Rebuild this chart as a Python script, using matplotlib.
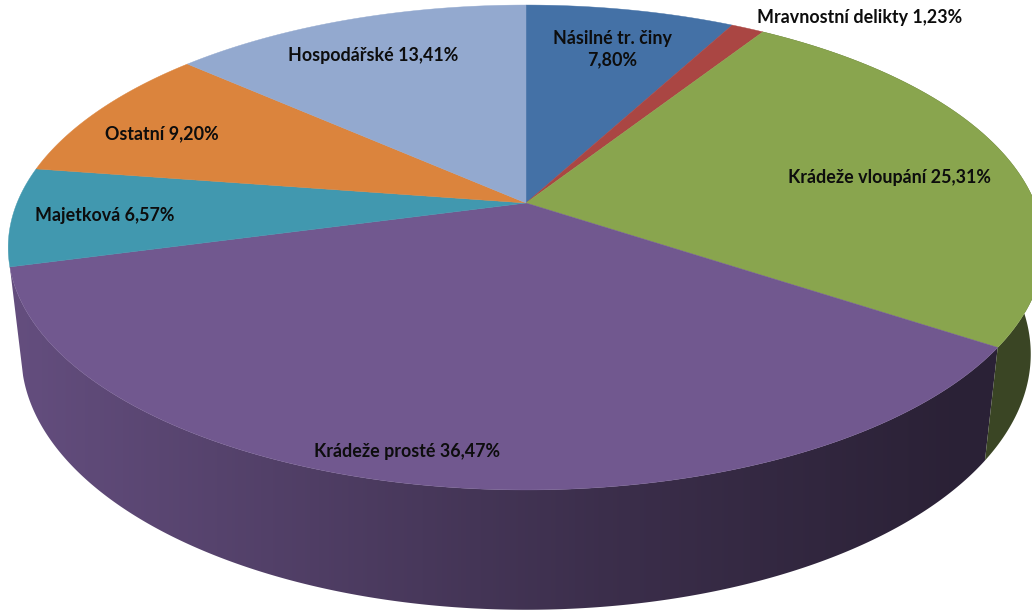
import numpy as np
import matplotlib
matplotlib.use('Agg')
import matplotlib.pyplot as plt
from matplotlib.patches import Polygon

categories = ['Násilné tr. činy', 'Mravnostní delikty', 'Krádeže vloupání', 'Krádeže prosté',
              'Majetková', 'Ostatní', 'Hospodářské']
values = [7.80, 1.23, 25.31, 36.47, 6.57, 9.20, 13.41]
value_labels = ['7,80%', '1,23%', '25,31%', '36,47%', '6,57%', '9,20%', '13,41%']

colors = ['#4471a6', '#aa4643', '#89a54e', '#71588f', '#4198af', '#db843d', '#93a9cf']
wall_color_green = '#3a4524'

# perspective of the disc, hub in image pixels
hub_x, hub_y = 526, 203
scale_x, scale_y, tilt = 509, 234.3, 0.1835
depth_y, depth_w = 108, 0.025

label_pos = [(612, 49), (860, 17), (889, 178), (407, 452), (105, 215), (162, 134), (373, 56)]


def project(ang, r=1.0, z=0.0):
    # ang is clockwise from 12 o'clock in degrees
    u = r * np.sin(np.radians(ang))
    v = r * np.cos(np.radians(ang))
    w = 1 + tilt * v + depth_w * z
    return hub_x + scale_x * u / w, hub_y - (scale_y * v - depth_y * z) / w


def wall_outline(start, end):
    angs = np.linspace(start, end, 300)
    xt, yt = project(angs)
    xb, yb = project(angs, z=1)
    return np.column_stack([np.concatenate([xt, xb[::-1]]), np.concatenate([yt, yb[::-1]])])


fig = plt.figure(figsize=(10.32, 6.11), dpi=100)
ax = fig.add_axes([0, 0, 1, 1])

edges = np.concatenate([[0], np.cumsum(values) / np.sum(values) * 360])

# side wall first, top face goes over it
# green piece is flat, purple one gets darker to the right
ax.add_patch(Polygon(wall_outline(edges[2], edges[3]), color=wall_color_green, lw=0))

shade_x = np.arange(0, 1032)
shade = np.interp(shade_x, [20, 400, 600, 950], [0.88, 0.65, 0.53, 0.38])
gradient = np.array(matplotlib.colors.to_rgb(colors[3]))[None, None, :] * shade[None, :, None]
wall = Polygon(wall_outline(edges[3], edges[4]), transform=ax.transData, fc='none', lw=0)
ax.add_patch(wall)
im = ax.imshow(gradient, extent=(0, 1032, 611, 0), aspect='auto', interpolation='bilinear')
im.set_clip_path(wall)

ax.set_xlim(0, 1032)
ax.set_ylim(611, 0)
ax.axis('off')

# top face
for i in range(len(values)):
    angs = np.linspace(edges[i], edges[i + 1], 200)
    xs, ys = project(angs)
    xs = np.concatenate([[hub_x], xs])
    ys = np.concatenate([[hub_y], ys])
    ax.fill(xs, ys, color=colors[i], lw=0.3, zorder=3)

for i, name in enumerate(categories):
    if i == 0:
        txt = name + '\n' + value_labels[i]
    else:
        txt = name + ' ' + value_labels[i]
    ax.text(label_pos[i][0], label_pos[i][1], txt, family='Lato', weight='bold', fontsize=12.9,
            color='#0d0d0d', ha='center', va='center', linespacing=1.25, zorder=4)

fig.savefig('out.png', dpi=100, facecolor='white')
